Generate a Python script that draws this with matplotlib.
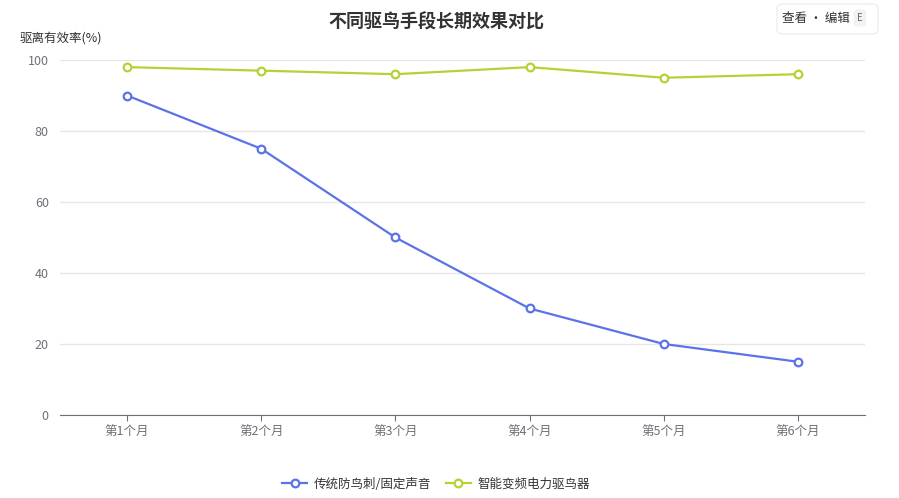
import matplotlib
matplotlib.use('Agg')
import matplotlib.pyplot as plt
from matplotlib.patches import FancyBboxPatch

plt.rcParams['font.family'] = ['Noto Sans CJK SC', 'DejaVu Sans']

months = ['第1个月', '第2个月', '第3个月', '第4个月', '第5个月', '第6个月']
traditional = [90, 75, 50, 30, 20, 15]
smart = [98, 97, 96, 98, 95, 96]
series_names = ['传统防鸟刺/固定声音', '智能变频电力驱鸟器']
yticks = [0, 20, 40, 60, 80, 100]

fig = plt.figure(figsize=(8.99, 4.98), dpi=100)
ax = fig.add_axes([0.0667, 0.1667, 0.8955, 0.7128])
x = list(range(len(months)))
c1, c2 = '#5B73E8', '#B3D335'
ax.plot(x, traditional, color=c1, lw=1.6, marker='o', ms=5.5, mfc='white', mec=c1, mew=1.6, label=series_names[0])
ax.plot(x, smart, color=c2, lw=1.6, marker='o', ms=5.5, mfc='white', mec=c2, mew=1.6, label=series_names[1])
ax.set_xlim(-0.5, len(months) - 0.5)
ax.set_ylim(0, 100)
ax.set_yticks(yticks)
ax.set_xticks(x)
ax.set_xticklabels(months)
ax.grid(axis='y', color='#E6E6E6', lw=1)
ax.set_axisbelow(True)
for s in ['top', 'right', 'left']:
    ax.spines[s].set_visible(False)
ax.spines['bottom'].set_color('#6E7079')
ax.tick_params(axis='y', length=0, labelsize=9, colors='#6E7079', pad=8)
ax.tick_params(axis='x', length=4, labelsize=9, colors='#6E7079', color='#6E7079')

fig.text(0.485, 0.955, '不同驱鸟手段长期效果对比', ha='center', va='center', fontsize=13, fontweight='bold', color='#333333')
fig.text(0.022, 0.923, '驱离有效率(%)', ha='left', va='center', fontsize=9, color='#333333')

box = FancyBboxPatch((777 / 899, 1 - 34 / 498), 101 / 899, 30 / 498, boxstyle='round,pad=0,rounding_size=0.008',
                     transform=fig.transFigure, fc='white', ec='#EEEEEE', lw=1)
fig.patches.append(box)
fig.text(816 / 899, 1 - 18 / 498, '查看 · 编辑', ha='center', va='center', fontsize=9, color='#333333')
fig.text(860 / 899, 1 - 18 / 498, 'E', ha='center', va='center', fontsize=7, color='#666666',
         bbox=dict(boxstyle='round,pad=0.35', fc='#F2F2F2', ec='none'))

fig.legend(loc='center', bbox_to_anchor=(0.485, 0.028), ncol=2, frameon=False, fontsize=9,
           handlelength=2.0, columnspacing=1.2, handletextpad=0.5, labelcolor='#333333')
fig.savefig('out.png', dpi=100)
